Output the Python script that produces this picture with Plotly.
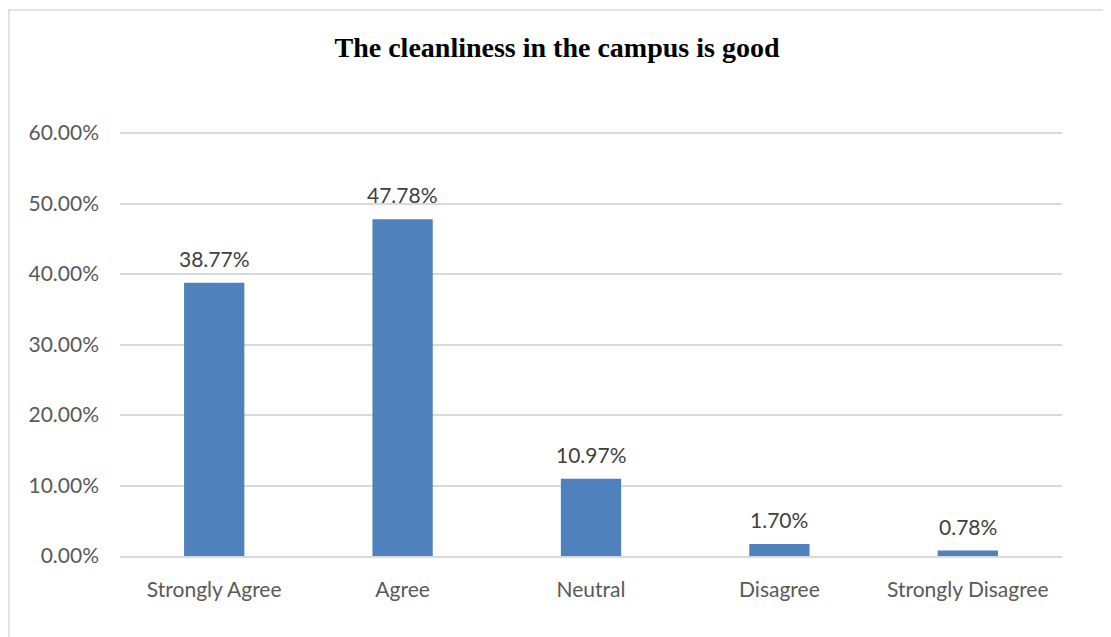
import plotly.graph_objects as go

categories = ["Strongly Agree", "Agree", "Neutral", "Disagree", "Strongly Disagree"]
values = [0.3877, 0.4778, 0.1097, 0.0170, 0.0078]
y_ticks = [0, 0.1, 0.2, 0.3, 0.4, 0.5, 0.6]
title_text = "The cleanliness in the campus is good"

OFF = 8  # page body margin
W, H = 1111, 637
L, R, T, B = 120 - OFF, 49 + OFF, 131 - OFF, 81 + OFF
pw, ph = W - L - R, H - T - B

fig = go.Figure()
fig.add_trace(go.Bar(
    x=categories, y=values,
    marker=dict(color="#4F81BD", line=dict(width=0)),
    hoverinfo="x+y",
))

for c, v in zip(categories, values):
    fig.add_annotation(
        x=c, y=v, text=f"{v*100:.2f}%", showarrow=False,
        yanchor="bottom", yshift=10,
        font=dict(family="Lato", size=21, color="#404040"),
    )

# chart border (page pixel coords -> paper coords)
def px_x(p):
    return (p - OFF - L) / pw

def px_y(p):
    return (H - B - (p - OFF)) / ph

fig.add_shape(
    type="rect", xref="paper", yref="paper",
    x0=px_x(9), x1=px_x(1110), y0=px_y(660), y1=px_y(10),
    line=dict(color="#D9D9D9", width=1.5), fillcolor="rgba(0,0,0,0)", layer="below",
)

fig.update_layout(
    width=W, height=H,
    margin=dict(l=L, r=R, t=T, b=B),
    paper_bgcolor="white", plot_bgcolor="white",
    bargap=0.68,
    showlegend=False,
    title=dict(
        text=f"<b>{title_text}</b>", x=(557 - OFF) / W, xanchor="center",
        y=1 - (47 - OFF) / H, yanchor="middle", yref="container",
        font=dict(family="Liberation Serif", size=28, color="black"),
    ),
    xaxis=dict(
        showgrid=False, showline=True, linecolor="#D9D9D9", linewidth=1.5,
        ticks="", ticklabelstandoff=14,
        tickfont=dict(family="Lato", size=21, color="#595959"),
    ),
    yaxis=dict(
        range=[0, 0.603], tickvals=y_ticks, tickformat=".2%",
        showgrid=True, gridcolor="#D9D9D9", gridwidth=1.5,
        zeroline=False, showline=False, ticks="", ticklabelstandoff=20,
        tickfont=dict(family="Lato", size=21, color="#595959"),
    ),
)

fig.write_html("out.html")
